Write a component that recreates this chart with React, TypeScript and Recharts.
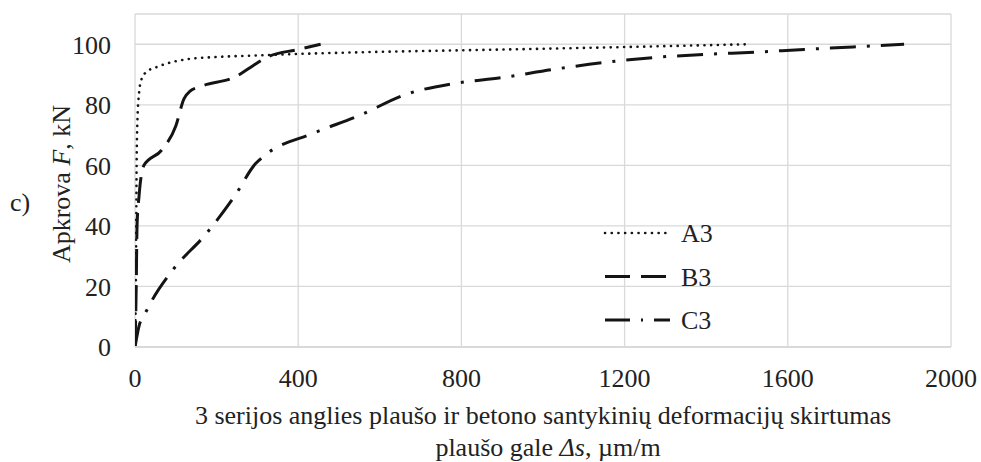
// App.tsx
import React from 'react';
import {
  LineChart,
  Line,
  XAxis,
  YAxis,
  CartesianGrid,
} from 'recharts';

// A3 series: strain difference (µm/m) vs load (kN)
const a3X = [0, 2, 3, 4, 6, 10, 15, 25, 60, 125, 200, 300, 400, 600, 800, 1100, 1500];
const a3Y = [0, 20, 40, 60, 75, 84, 88, 90.5, 92.8, 95, 95.8, 96.3, 96.8, 97.5, 98, 98.8, 100];

// B3 series
const b3X = [0, 3, 5, 10, 22, 65, 100, 120, 135, 160, 250, 290, 320, 400, 455];
const b3Y = [0, 20, 40, 50, 60, 65, 73, 82, 84.5, 86, 89.5, 93, 95.5, 98.3, 100];

// C3 series
const c3X = [0, 10, 26, 40, 90, 175, 245, 295, 320, 435, 550, 665, 780, 900, 1025, 1150, 1270, 1400, 1520, 1640, 1760, 1885];
const c3Y = [0, 7, 11.4, 15, 25, 37.5, 50, 60.5, 63.5, 70.5, 76.5, 83.5, 87, 89, 91.7, 94, 95.6, 96.7, 97.4, 98.3, 99.1, 100];

const xTicks = [0, 400, 800, 1200, 1600, 2000];
const yTicks = [0, 20, 40, 60, 80, 100];

const toPoints = (xs: number[], ys: number[]) => xs.map((x, i) => ({ x, y: ys[i] }));

const FONT = '"Liberation Serif", "Times New Roman", serif';
const INK = '#141414';
const TEXT = '#222';

const seriesStyles = [
  { name: 'A3', dash: '0.1 6.6', legendDash: '0.1 6.6', width: 2.6, cap: 'round' as const },
  { name: 'B3', dash: '26 10', legendDash: '25 11', width: 3, cap: 'butt' as const },
  { name: 'C3', dash: '26 11 3 11', legendDash: '25 11 2 11', width: 3, cap: 'butt' as const },
];

const tickStyle = { fontFamily: FONT, fontSize: 26, fill: TEXT };

export default function App() {
  const series = [
    toPoints(a3X, a3Y),
    toPoints(b3X, b3Y),
    toPoints(c3X, c3Y),
  ];

  return (
    <div
      style={{
        position: 'absolute',
        left: 0,
        top: 0,
        width: 981,
        height: 462,
        background: '#fff',
        fontFamily: FONT,
      }}
    >
      <LineChart
        width={981}
        height={462}
        margin={{ top: 14, right: 30, bottom: 85, left: 0 }}
        style={{ fontFamily: FONT, fontSize: 26 }}
      >
        <CartesianGrid stroke="#d9d9d9" strokeWidth={1.3} />
        <XAxis
          type="number"
          dataKey="x"
          height={30}
          domain={[0, 2000]}
          ticks={xTicks}
          interval={0}
          allowDataOverflow
          tickSize={0}
          tickMargin={22}
          axisLine={{ stroke: '#d9d9d9', strokeWidth: 2 }}
          tick={tickStyle}
        />
        <YAxis
          type="number"
          dataKey="y"
          width={135}
          domain={[0, 110]}
          ticks={yTicks}
          interval={0}
          allowDataOverflow
          tickSize={0}
          tickMargin={24}
          axisLine={false}
          tick={tickStyle}
        />
        {seriesStyles.map((s, i) => (
          <Line
            key={s.name}
            name={s.name}
            data={series[i]}
            dataKey="y"
            type="monotone"
            stroke={INK}
            strokeWidth={s.width}
            strokeDasharray={s.dash}
            strokeLinecap={s.cap}
            dot={false}
            activeDot={false}
            isAnimationActive={false}
          />
        ))}
      </LineChart>
      <svg
        width={981}
        height={462}
        style={{ position: 'absolute', left: 0, top: 0, pointerEvents: 'none' }}
      >
        {/* legend inside the plot */}
        {seriesStyles.map((s, i) => {
          const cy = 233 + i * 43.5;
          return (
            <g key={s.name}>
              <line
                x1={605}
                x2={670}
                y1={cy}
                y2={cy}
                stroke={INK}
                strokeWidth={s.width}
                strokeDasharray={s.legendDash}
                strokeLinecap={s.cap}
              />
              <text x={681} y={cy + 9} fontFamily={FONT} fontSize={26} fill={TEXT}>
                {s.name}
              </text>
            </g>
          );
        })}
        <text x={10} y={211} fontFamily={FONT} fontSize={26} fill={TEXT}>
          c)
        </text>
        <text
          transform="translate(70, 184) rotate(-90)"
          textAnchor="middle"
          fontFamily={FONT}
          fontSize={26}
          fill={TEXT}
        >
          Apkrova <tspan fontStyle="italic">F</tspan>, kN
        </text>
        <text x={543} y={424} textAnchor="middle" fontFamily={FONT} fontSize={26} fill={TEXT}>
          3 serijos anglies plaušo ir betono santykinių deformacijų skirtumas
        </text>
        <text x={548} y={456} textAnchor="middle" fontFamily={FONT} fontSize={26} fill={TEXT}>
          plaušo gale <tspan fontStyle="italic">Δs</tspan>, µm/m
        </text>
      </svg>
    </div>
  );
}
